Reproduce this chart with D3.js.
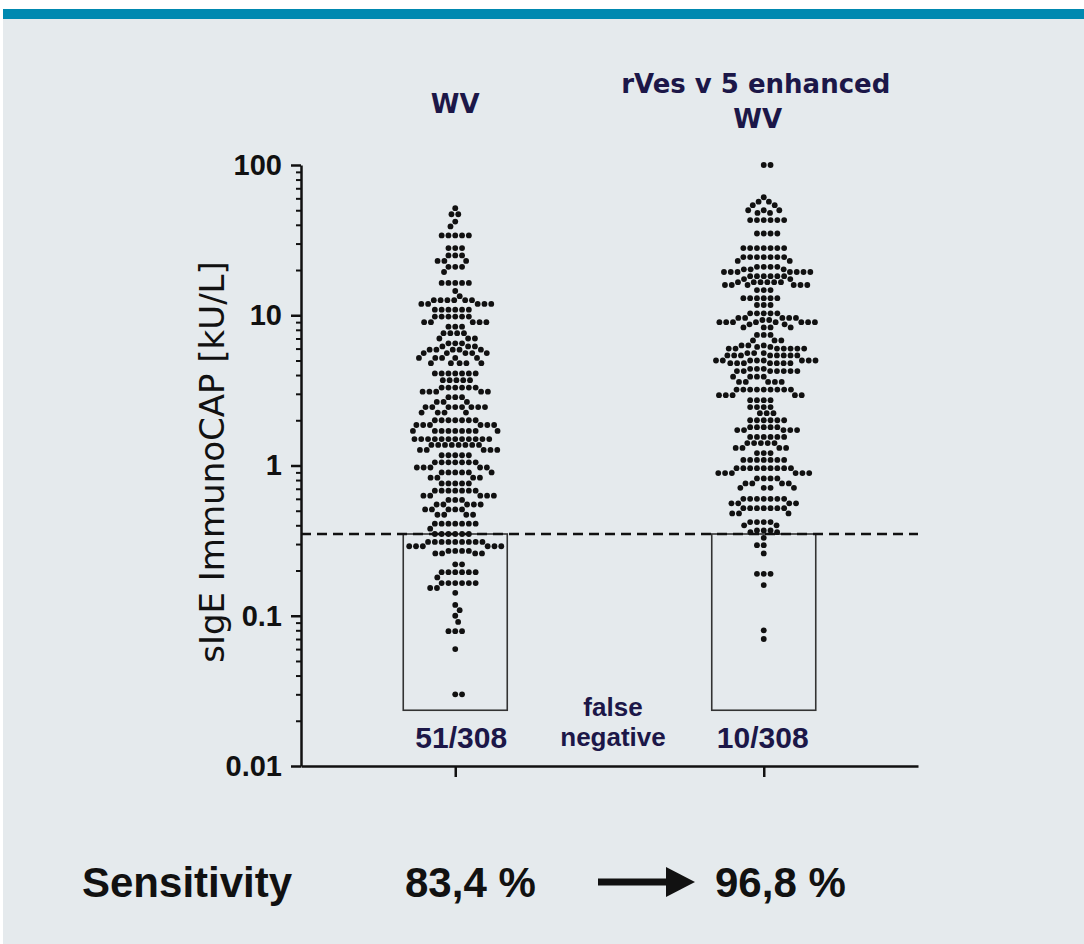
<!DOCTYPE html>
<html>
<head>
<meta charset="utf-8">
<script src="https://cdn.jsdelivr.net/npm/d3@7"></script>
<style>
  body { margin: 0; background: #fff; }
</style>
</head>
<body>
<div id="chart"></div>
<script>
// chart data: [sIgE value in kU/L, number of patients at that level]
const categories = ["WV", "rVes v 5 enhanced WV"];
const wvRows = [
  [51.6,1],[47,2],[42,1],[39,1],[34,5],[28,3],[25,3],[23,3],[21,3],[19.4,1],[16.4,5],[14.5,1],[13.4,1],
  [12.6,6],[11.9,5],[10.9,6],[9.8,6],[9.0,5],[8.4,3],[7.6,4],[7.0,3],[6.5,3],[6.2,3],[5.9,5],[5.6,5],[5.2,5],
  [4.8,5],[4.1,7],[3.7,5],[3.3,6],[3.1,5],[2.85,3],[2.65,3],[2.45,8],[2.25,4],[2.0,7],[1.86,6],[1.7,9],
  [1.5,12],[1.37,8],[1.27,5],[1.17,5],[1.05,7],[0.97,5],[0.9,6],[0.83,4],[0.76,5],[0.68,7],[0.63,5],
  [0.59,3],[0.55,5],[0.51,5],[0.47,4],[0.41,7],[0.38,1],[0.35,6],
  [0.31,9],[0.29,6],[0.27,4],[0.26,4],[0.22,2],[0.195,6],[0.18,1],[0.165,6],[0.153,2],[0.142,1],
  [0.118,1],[0.109,1],[0.1,1],[0.091,1],[0.079,3],[0.06,1],[0.03,2]
];
const rvesRows = [
  [100,2],[61,1],[57,2],[54,2],[50,3],[48,2],[43,6],[35,4],[28,7],[24.4,7],[23,2],[21,4],[20.2,3],[19.4,7],
  [18.2,6],[17.4,2],[16.6,6],[15.9,6],[14.7,3],[13,6],[11.7,3],[10.3,5],[9.6,5],[9.3,2],[9.0,8],[8.7,2],
  [8.3,4],[7.4,3],[6.8,3],[6.3,3],[6.15,2],[6.0,7],[5.6,3],[5.4,8],[5.0,8],[4.8,7],[4.4,3],[4.25,7],[3.9,4],
  [3.6,5],[3.2,9],[2.94,5],[2.72,4],[2.45,4],
  [2.23,3],[2.0,6],[1.8,5],[1.72,5],[1.55,6],[1.41,5],[1.31,4],[1.21,3],[1.09,7],[0.96,9],[0.89,6],
  [0.82,4],[0.76,4],[0.71,4],[0.6,7],[0.56,4],[0.52,7],[0.48,3],[0.42,4],[0.4,2],[0.37,3],[0.36,2],
  [0.33,1],[0.295,2],[0.26,1],[0.19,3],[0.16,1],[0.08,1],[0.07,1]
];
const yTicks = [0.01, 0.1, 1, 10, 100];
const cutoff = 0.35;
const boxBottom = 0.0235;
const falseNegatives = ["51/308", "10/308"];
const sensitivity = ["83,4 %", "96,8 %"];

const svgWidth = 1084;
const svgHeight = 944;
const navy = "#1c1748";

const svg = d3.select("#chart")
  .append("svg")
  .attr("width", svgWidth)
  .attr("height", svgHeight)
  .style("display", "block");

// panel background and teal band on top
svg.append("rect").attr("x", 3).attr("y", 19).attr("width", svgWidth - 3).attr("height", svgHeight - 19)
  .attr("fill", "#e5eaed");
svg.append("rect").attr("x", 3).attr("y", 9).attr("width", svgWidth - 3).attr("height", 10)
  .attr("fill", "#0089b0");

// scales
const y = d3.scaleLog().domain([0.01, 100]).range([766, 165]);
const x = d3.scalePoint().domain(categories).range([301, 918]).padding(0.5);

// minor ticks
const minors = [];
for (let e = -2; e < 2; e++) for (let m = 2; m <= 9; m++) minors.push(m * Math.pow(10, e));

svg.append("g")
  .attr("transform", "translate(301,0)")
  .call(d3.axisLeft(y).tickValues(minors).tickSize(5).tickFormat(""))
  .call(g => g.select(".domain").remove())
  .call(g => g.selectAll("line").attr("stroke", "#111").attr("stroke-width", 2));

svg.append("g")
  .attr("transform", "translate(301,0)")
  .call(d3.axisLeft(y).tickValues(yTicks).tickSize(10).tickSizeOuter(0).tickPadding(9)
    .tickFormat(d => d3.format("~g")(d)))
  .call(g => g.selectAll("path, line").attr("stroke", "#111").attr("stroke-width", 2.5))
  .call(g => g.selectAll("text")
    .attr("font-family", "'Liberation Sans', Arial, sans-serif")
    .attr("font-weight", "bold")
    .attr("font-size", "29px")
    .attr("fill", "#111"));

// small marker at the cut-off on the right of the axis
svg.append("line")
  .attr("x1", 301).attr("x2", 308)
  .attr("y1", y(cutoff)).attr("y2", y(cutoff))
  .attr("stroke", "#111").attr("stroke-width", 2);

// x axis
svg.append("g")
  .attr("transform", `translate(0,${y(0.01)})`)
  .call(d3.axisBottom(x).tickSize(11).tickSizeOuter(0).tickFormat(""))
  .call(g => g.selectAll("path, line").attr("stroke", "#111").attr("stroke-width", 2.5));

// boxes around the false negatives
svg.selectAll("rect.box")
  .data(categories)
  .enter()
  .append("rect")
  .attr("class", "box")
  .attr("x", d => x(d) - 52)
  .attr("width", 104)
  .attr("y", y(cutoff))
  .attr("height", y(boxBottom) - y(cutoff))
  .attr("fill", "none")
  .attr("stroke", "#333")
  .attr("stroke-width", 1.6);

// dashed cut-off line
svg.append("line")
  .attr("x1", 301).attr("x2", 918)
  .attr("y1", y(cutoff)).attr("y2", y(cutoff))
  .attr("stroke", "#111")
  .attr("stroke-width", 2.5)
  .attr("stroke-dasharray", "10,6");

// simple beeswarm so the dots do not overlap
const D = 6.8;
function swarm(rows, cx) {
  const placed = [];
  let i = 0;
  rows.forEach(([v, n]) => {
    for (let k = 0; k < n; k++) {
      const py = y(v);
      const pref = i % 2 ? 1 : -1;
      const near = placed.filter(p => Math.abs(p.y - py) < D);
      const cands = [0];
      near.forEach(p => {
        const dx = Math.sqrt(D * D - (p.y - py) ** 2);
        cands.push(p.dx + dx, p.dx - dx);
      });
      cands.sort((a, b) => (Math.abs(a) - (Math.sign(a) === pref ? 1e-6 : 0)) -
                           (Math.abs(b) - (Math.sign(b) === pref ? 1e-6 : 0)));
      for (const c of cands) {
        if (near.every(p => (p.dx - c) ** 2 + (p.y - py) ** 2 >= D * D - 0.01)) {
          placed.push({ dx: c, y: py });
          break;
        }
      }
      i++;
    }
  });
  return placed.map(p => ({ x: cx + p.dx, y: p.y }));
}

const dots = swarm(wvRows, x(categories[0])).concat(swarm(rvesRows, x(categories[1])));

svg.append("g")
  .selectAll("circle")
  .data(dots)
  .enter()
  .append("circle")
  .attr("cx", d => d.x)
  .attr("cy", d => d.y)
  .attr("r", 2.9)
  .attr("fill", "#111");

// column titles
const titleFont = "'DejaVu Sans', Verdana, sans-serif";
svg.append("text")
  .attr("x", x(categories[0])).attr("y", 113)
  .attr("text-anchor", "middle")
  .attr("font-family", titleFont).attr("font-weight", "bold").attr("font-size", "26px")
  .attr("fill", navy)
  .text("WV");

svg.append("text")
  .attr("x", x(categories[1]) - 8).attr("y", 93)
  .attr("text-anchor", "middle")
  .attr("font-family", titleFont).attr("font-weight", "bold").attr("font-size", "26px")
  .attr("fill", navy)
  .text("rVes v 5 enhanced");

svg.append("text")
  .attr("x", x(categories[1]) - 6).attr("y", 128)
  .attr("text-anchor", "middle")
  .attr("font-family", titleFont).attr("font-weight", "bold").attr("font-size", "26px")
  .attr("fill", navy)
  .text("WV");

// y axis label
svg.append("text")
  .attr("transform", "translate(224,462) rotate(-90)")
  .attr("text-anchor", "middle")
  .attr("font-family", titleFont)
  .attr("font-size", "34px")
  .attr("fill", "#111")
  .text("sIgE ImmunoCAP [kU/L]");

// false negative counts
const fnShift = [6, -1];
svg.selectAll("text.fn")
  .data(falseNegatives)
  .enter()
  .append("text")
  .attr("class", "fn")
  .attr("x", (d, i) => x(categories[i]) + fnShift[i])
  .attr("y", 748)
  .attr("text-anchor", "middle")
  .attr("font-family", "'Liberation Sans', Arial, sans-serif")
  .attr("font-weight", "bold")
  .attr("font-size", "30px")
  .attr("fill", navy)
  .text(d => d);

svg.append("text")
  .attr("x", 613).attr("y", 716)
  .attr("text-anchor", "middle")
  .attr("font-family", "'Liberation Sans', Arial, sans-serif")
  .attr("font-weight", "bold").attr("font-size", "26px")
  .attr("fill", navy)
  .text("false");

svg.append("text")
  .attr("x", 613).attr("y", 746)
  .attr("text-anchor", "middle")
  .attr("font-family", "'Liberation Sans', Arial, sans-serif")
  .attr("font-weight", "bold").attr("font-size", "26px")
  .attr("fill", navy)
  .text("negative");

// sensitivity row
const bottomFont = "'Liberation Sans', Arial, sans-serif";
svg.append("text")
  .attr("x", 82).attr("y", 897)
  .attr("font-family", bottomFont).attr("font-weight", "bold").attr("font-size", "42px")
  .attr("fill", "#111")
  .text("Sensitivity");

svg.selectAll("text.sens")
  .data(sensitivity)
  .enter()
  .append("text")
  .attr("class", "sens")
  .attr("x", (d, i) => [405, 715][i])
  .attr("y", 897)
  .attr("font-family", bottomFont).attr("font-weight", "bold").attr("font-size", "42px")
  .attr("fill", "#111")
  .text(d => d);

// arrow between the two values
svg.append("line")
  .attr("x1", 598).attr("x2", 672)
  .attr("y1", 882).attr("y2", 882)
  .attr("stroke", "#111").attr("stroke-width", 7);
svg.append("path")
  .attr("d", "M666,867 L695,882 L666,897 Z")
  .attr("fill", "#111");
</script>
</body>
</html>
